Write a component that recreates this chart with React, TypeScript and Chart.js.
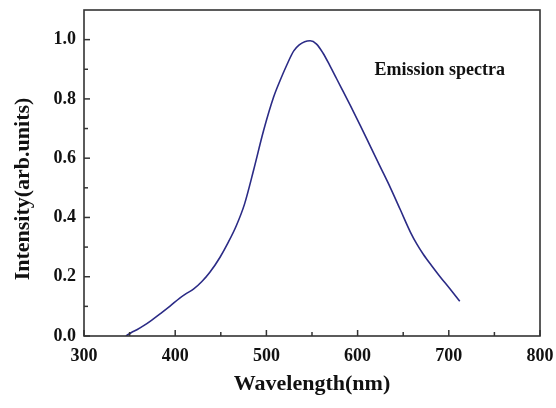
import React, { useEffect, useRef } from "react";
import { Chart, registerables } from "chart.js";

Chart.register(...registerables);

const wavelengths = [346, 352, 358, 365, 374, 383, 394, 405, 412, 420, 429, 438, 449, 458, 467, 476, 486, 497, 508, 515, 522, 530, 536, 542, 548, 555, 562, 570, 577, 584, 592, 603, 614, 625, 636, 647, 658, 665, 672, 681, 690, 701, 712];
const intensity = [0.0, 0.012, 0.021, 0.034, 0.053, 0.074, 0.1, 0.128, 0.143, 0.158, 0.183, 0.215, 0.265, 0.315, 0.372, 0.445, 0.56, 0.694, 0.807, 0.862, 0.912, 0.962, 0.982, 0.993, 0.996, 0.985, 0.955, 0.91, 0.868, 0.826, 0.778, 0.71, 0.64, 0.57, 0.5, 0.425, 0.35, 0.31, 0.276, 0.238, 0.202, 0.16, 0.117];
const xMajorTicks = [300, 400, 500, 600, 700, 800];
const xMinorTicks = [350, 450, 550, 650, 750];
const yMajorTicks = [0.0, 0.2, 0.4, 0.6, 0.8, 1.0];
const yMinorTicks = [0.1, 0.3, 0.5, 0.7, 0.9];
const xTitle = "Wavelength(nm)";
const yTitle = "Intensity(arb.units)";
const annotation = { text: "Emission spectra", x: 690, y: 0.895 };

const FONT = "'Liberation Serif', 'Times New Roman', serif";

const framePlugin = {
  id: "frame",
  afterDatasetsDraw(chart: any) {
    const { ctx, chartArea, scales } = chart;
    const { left, right, top, bottom } = chartArea;
    ctx.save();
    ctx.strokeStyle = "#333";
    ctx.lineWidth = 1.6;
    ctx.strokeRect(left, top, right - left, bottom - top);
    ctx.lineWidth = 1.5;
    const xs = scales.x;
    const ys = scales.y;
    const drawX = (v: number, len: number) => {
      const p = xs.getPixelForValue(v);
      ctx.beginPath();
      ctx.moveTo(p, bottom);
      ctx.lineTo(p, bottom - len);
      ctx.stroke();
    };
    const drawY = (v: number, len: number) => {
      const p = ys.getPixelForValue(v);
      ctx.beginPath();
      ctx.moveTo(left, p);
      ctx.lineTo(left + len, p);
      ctx.stroke();
    };
    xMajorTicks.forEach((v) => drawX(v, 6));
    xMinorTicks.forEach((v) => drawX(v, 4));
    yMajorTicks.forEach((v) => drawY(v, 6));
    yMinorTicks.forEach((v) => drawY(v, 4));
    ctx.fillStyle = "#111";
    ctx.font = `bold 18px ${FONT}`;
    ctx.textAlign = "center";
    ctx.textBaseline = "middle";
    ctx.fillText(annotation.text, xs.getPixelForValue(annotation.x), ys.getPixelForValue(annotation.y));
    // y-axis title, offset below the plot centre as in the reference
    ctx.font = `bold 22px ${FONT}`;
    ctx.translate(23, (top + bottom) / 2 + 16);
    ctx.rotate(-Math.PI / 2);
    ctx.fillText(yTitle, 0, 0);
    ctx.restore();
  },
};

export default function App() {
  const ref = useRef<HTMLCanvasElement | null>(null);
  useEffect(() => {
    if (!ref.current) return;
    const chart = new Chart(ref.current, {
      type: "line",
      data: {
        datasets: [
          {
            data: wavelengths.map((w, i) => ({ x: w, y: intensity[i] })),
            borderColor: "#2b2b86",
            borderWidth: 1.6,
            pointRadius: 0,
            cubicInterpolationMode: "monotone",
            fill: false,
          },
        ],
      },
      options: {
        animation: false,
        responsive: false,
        layout: { padding: { left: 0, right: 16, top: 10, bottom: 0 } },
        plugins: { legend: { display: false }, tooltip: { enabled: false } },
        scales: {
          x: {
            type: "linear",
            min: 300,
            max: 800,
            afterBuildTicks: (s: any) => {
              s.ticks = xMajorTicks.map((v) => ({ value: v }));
            },
            afterFit: (s: any) => {
              s.height = 72;
              s.paddingLeft = 0;
              s.paddingRight = 0;
            },
            grid: { display: false, drawTicks: false },
            border: { display: false },
            ticks: {
              padding: 10,
              color: "#111",
              font: { family: FONT, size: 18, weight: "bold" },
              maxRotation: 0,
              callback: (v: any) => String(v),
            },
            title: {
              display: true,
              text: xTitle,
              color: "#111",
              font: { family: FONT, size: 22, weight: "bold" },
              padding: { top: 4, bottom: 10 },
            },
          },
          y: {
            type: "linear",
            min: 0,
            max: 1.1,
            afterBuildTicks: (s: any) => {
              s.ticks = yMajorTicks.map((v) => ({ value: v }));
            },
            afterFit: (s: any) => {
              s.width = 84;
              s.paddingTop = 0;
              s.paddingBottom = 0;
            },
            grid: { display: false, drawTicks: false },
            border: { display: false },
            ticks: {
              padding: 8,
              color: "#111",
              font: { family: FONT, size: 18, weight: "bold" },
              callback: (v: any) => Number(v).toFixed(1),
            },
            title: { display: false, text: yTitle },
          },
        },
      },
      plugins: [framePlugin],
    } as any);
    return () => chart.destroy();
  }, []);
  return (
    <div style={{ position: "fixed", left: 0, top: 0, width: 556, height: 408, background: "#fff" }}>
      <canvas ref={ref} width={556} height={408} style={{ width: 556, height: 408 }} />
    </div>
  );
}
